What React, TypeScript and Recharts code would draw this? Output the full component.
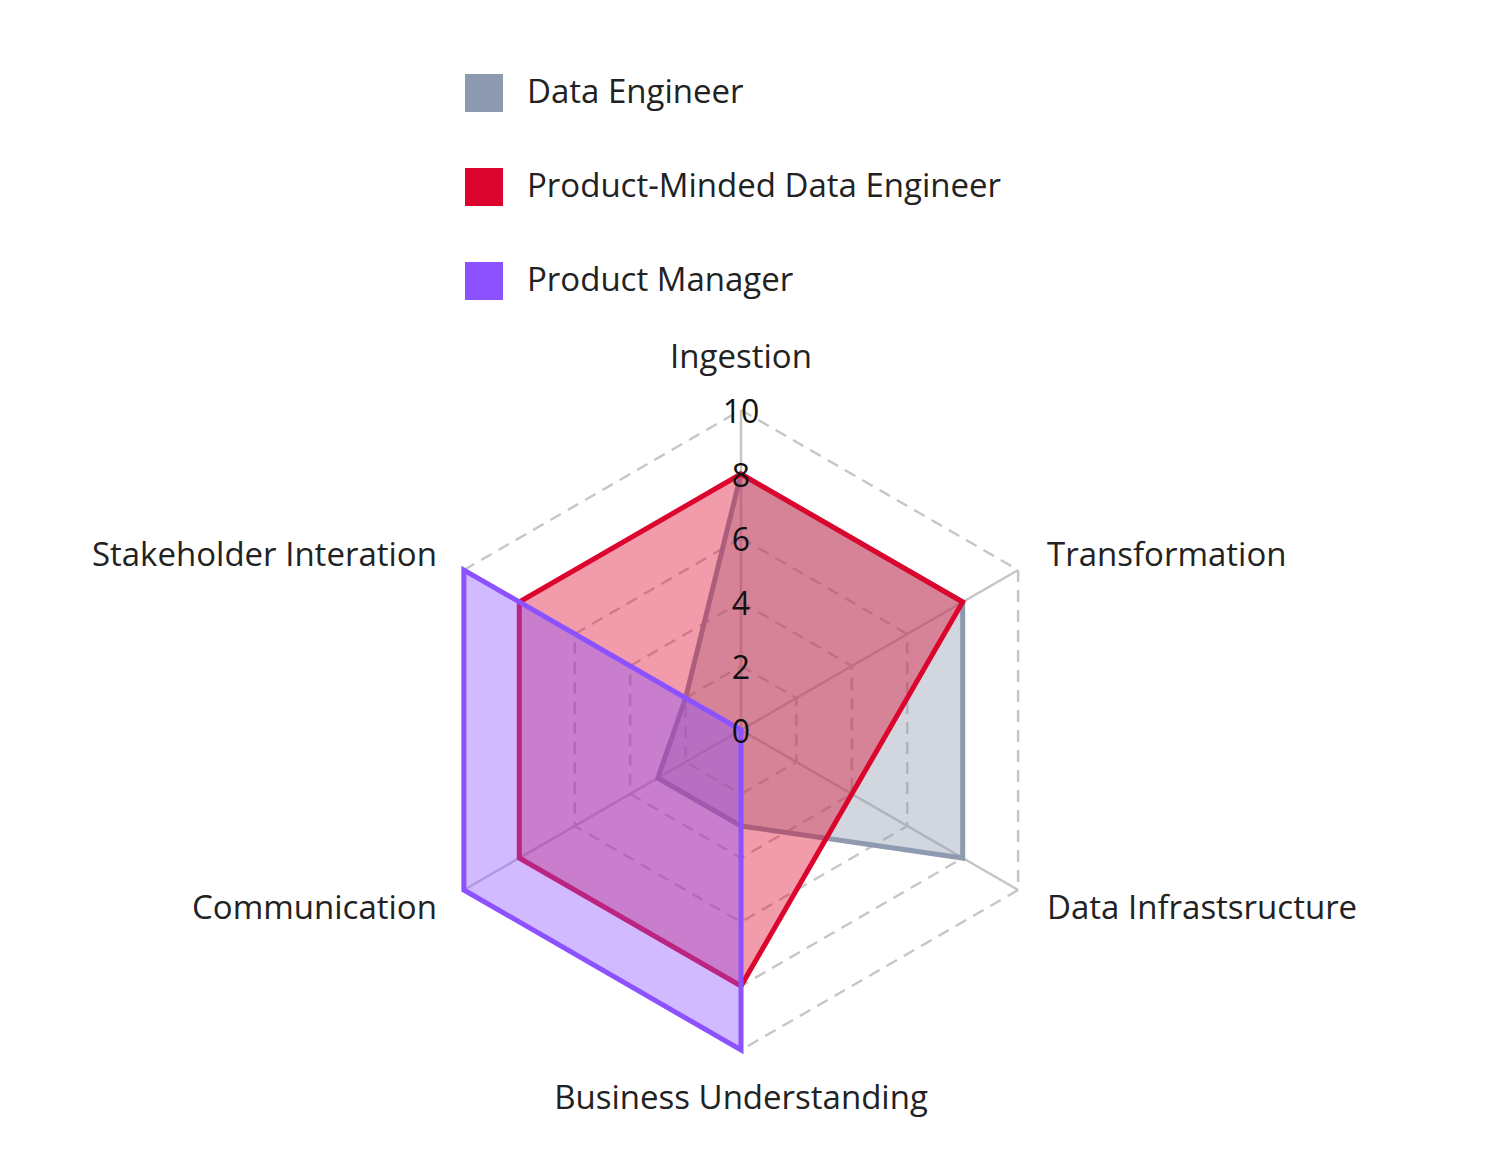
import {
  RadarChart,
  PolarGrid,
  PolarAngleAxis,
  PolarRadiusAxis,
  Radar,
  Legend,
} from "recharts";

const SKILLS = [
  "Ingestion",
  "Transformation",
  "Data Infrastsructure",
  "Business Understanding",
  "Communication",
  "Stakeholder Interation",
];
const DATA_ENGINEER = [8, 8, 8, 3, 3, 2];
const PRODUCT_MINDED_DE = [8, 8, 4, 8, 8, 8];
const PRODUCT_MANAGER = [0, 0, 0, 10, 10, 10];
const RADIUS_TICKS = [0, 2, 4, 6, 8, 10];

const SERIES = [
  { key: "de", name: "Data Engineer", color: "#8E9AAF" },
  { key: "pmde", name: "Product-Minded Data Engineer", color: "#DC052D" },
  { key: "pm", name: "Product Manager", color: "#8C52FF" },
];

const FONT = "'Open Sans', 'Noto Sans', sans-serif";
const CX = 733;
const CY = 722;

const data = SKILLS.map((skill, i) => ({
  skill,
  de: DATA_ENGINEER[i],
  pmde: PRODUCT_MINDED_DE[i],
  pm: PRODUCT_MANAGER[i],
}));

function AngleTick(props: any) {
  const { x, y, payload } = props;
  const cx = typeof props.cx === "number" ? props.cx : CX;
  const cy = typeof props.cy === "number" ? props.cy : CY;
  const dx = x - cx;
  const dy = y - cy;
  let anchor = "middle";
  let ox = 0;
  let oy = 0;
  if (Math.abs(dx) < 1) {
    oy = dy < 0 ? -47 : 38;
  } else {
    anchor = dx > 0 ? "start" : "end";
    ox = dx > 0 ? 22 : -20;
    oy = dy < 0 ? -13 : 12;
  }
  return (
    <text
      x={x + ox}
      y={y + oy}
      textAnchor={anchor}
      dominantBaseline="central"
      fontSize={33}
      fontFamily={FONT}
      fill="#222"
    >
      {payload.value}
    </text>
  );
}

function RadiusTick(props: any) {
  const { x, y, payload } = props;
  return (
    <text
      x={x}
      y={y}
      textAnchor="middle"
      dominantBaseline="central"
      fontSize={32}
      fontFamily={FONT}
      fill="#111"
    >
      {payload.value}
    </text>
  );
}

function LegendBox() {
  return (
    <div style={{ fontFamily: FONT }}>
      {SERIES.map((s) => (
        <div
          key={s.key}
          style={{ display: "flex", alignItems: "center", height: 94 }}
        >
          <span
            style={{
              width: 38,
              height: 38,
              background: s.color,
              display: "inline-block",
              flexShrink: 0,
            }}
          />
          <span
            style={{
              marginLeft: 24,
              fontSize: 33,
              color: "#222",
              position: "relative",
              top: -3,
              whiteSpace: "nowrap",
            }}
          >
            {s.name}
          </span>
        </div>
      ))}
    </div>
  );
}

export default function App() {
  return (
    <div style={{ position: "relative", width: 1476, height: 1160 }}>
      <RadarChart
        width={1476}
        height={1160}
        data={data}
        cx={CX}
        cy={CY}
        outerRadius={320}
        margin={{ top: 0, right: 0, bottom: 0, left: 0 }}
      >
        <PolarGrid
          gridType="polygon"
          radialLines={false}
          stroke="#C6C6C6"
          strokeWidth={2.5}
          strokeDasharray="12 8"
        />
        <PolarGrid
          gridType="polygon"
          polarRadius={[0]}
          stroke="#C6C6C6"
          strokeWidth={2.5}
        />
        <PolarAngleAxis
          dataKey="skill"
          axisLine={false}
          tickLine={false}
          tick={<AngleTick />}
        />
        {SERIES.map((s) => (
          <Radar
            key={s.key}
            name={s.name}
            dataKey={s.key}
            stroke={s.color}
            strokeWidth={5}
            fill={s.color}
            fillOpacity={0.4}
            dot={false}
            isAnimationActive={false}
          />
        ))}
        <PolarRadiusAxis
          angle={90}
          domain={[0, 10]}
          ticks={RADIUS_TICKS as any}
          tickCount={6}
          axisLine={false}
          tickLine={false}
          tick={<RadiusTick />}
        />
        <Legend
          layout="vertical"
          content={<LegendBox />}
          wrapperStyle={{ top: 38, left: 457, bottom: "auto", width: 700 }}
        />
      </RadarChart>
    </div>
  );
}
